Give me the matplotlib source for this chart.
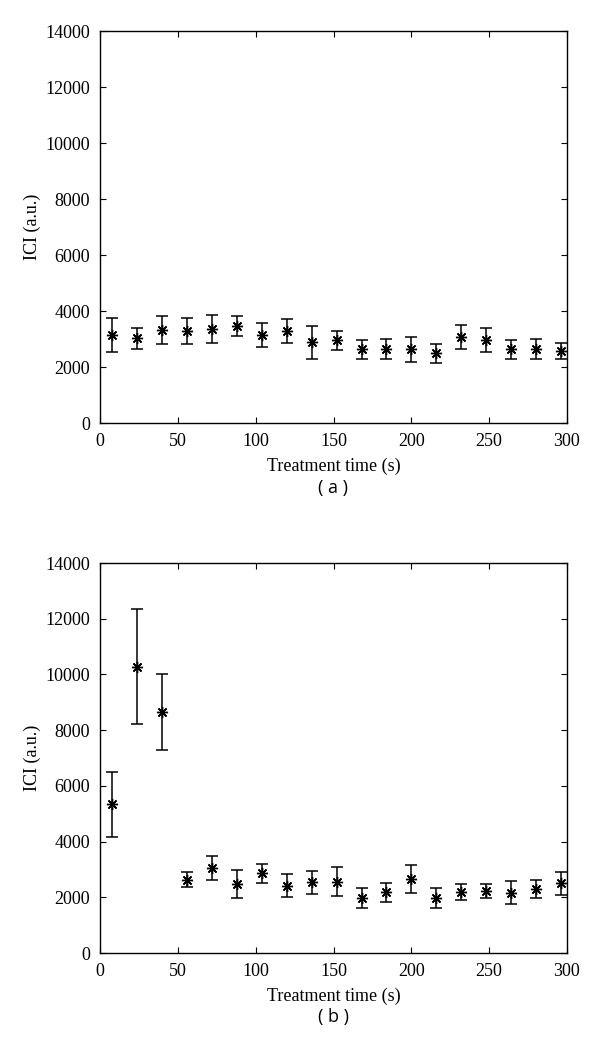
import matplotlib
matplotlib.use("Agg")
import matplotlib.pyplot as plt

plt.rcParams['font.family'] = ['Liberation Serif', 'DejaVu Serif']

time_s = [8, 24, 40, 56, 72, 88, 104, 120, 136, 152, 168, 184, 200, 216, 232, 248, 264, 280, 296]

ici_a = [3150, 3020, 3320, 3290, 3350, 3460, 3140, 3290, 2880, 2960, 2630, 2640, 2630, 2490, 3080, 2960, 2630, 2640, 2570]
err_a = [600, 360, 500, 470, 490, 360, 420, 430, 580, 340, 330, 360, 440, 330, 430, 420, 340, 350, 290]

ici_b = [5340, 10280, 8650, 2630, 3050, 2470, 2860, 2420, 2540, 2560, 1960, 2180, 2650, 1960, 2190, 2210, 2160, 2290, 2500]
err_b = [1170, 2070, 1380, 265, 425, 500, 345, 420, 415, 530, 360, 345, 510, 360, 295, 250, 410, 315, 425]

panel_labels = ["( a )", "( b )"]
xticks = [0, 50, 100, 150, 200, 250, 300]
yticks = [0, 2000, 4000, 6000, 8000, 10000, 12000, 14000]

fig = plt.figure(figsize=(6.0, 10.59), dpi=100)
ax_a = fig.add_axes([100/600, 1 - 423/1059, 467/600, 392/1059])
ax_b = fig.add_axes([100/600, 1 - 953/1059, 467/600, 390/1059])

for ax, y, e, lab in [(ax_a, ici_a, err_a, panel_labels[0]), (ax_b, ici_b, err_b, panel_labels[1])]:
    ax.errorbar(time_s, y, yerr=e, fmt='none', ecolor='black', elinewidth=1.1,
                capsize=4.5, capthick=1.1)
    ax.plot(time_s, y, linestyle='none', marker=(8, 2, 0), markersize=8,
            markeredgewidth=1.0, color='black')
    ax.set_xlim(0, 300)
    ax.set_ylim(0, 14000)
    ax.set_xticks(xticks)
    ax.set_yticks(yticks)
    ax.tick_params(direction='in', top=True, right=True, labelsize=13, length=4,
                   width=0.8, pad=7)
    for sp in ax.spines.values():
        sp.set_linewidth(1.0)
    ax.set_xlabel("Treatment time (s)", fontsize=13, labelpad=6)
    ax.set_ylabel("ICI (a.u.)", fontsize=13, labelpad=3)
    ax.text(0.5, -0.165, lab, transform=ax.transAxes, ha='center', va='center',
            fontsize=13, family=['Open Sans', 'DejaVu Sans'])

fig.savefig("out.png", dpi=100)
